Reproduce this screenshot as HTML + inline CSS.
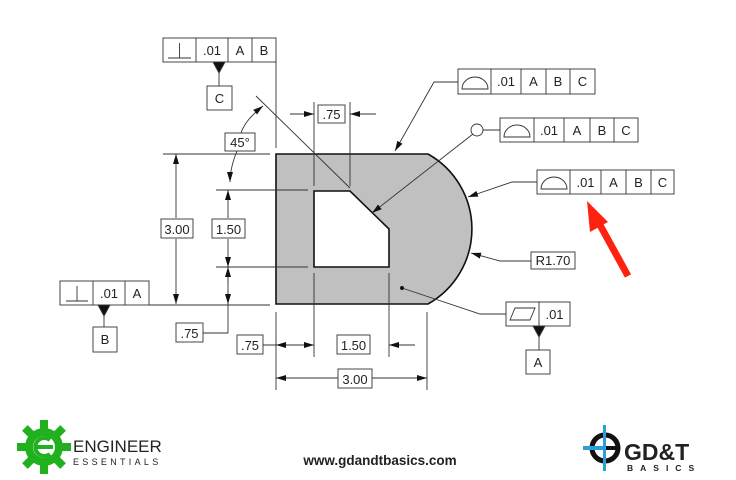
<!DOCTYPE html>
<html><head><meta charset="utf-8"><style>
html,body{margin:0;padding:0;background:#fff;width:736px;height:480px;overflow:hidden}
svg{display:block}
text{font-family:"Liberation Sans",Arial,sans-serif;fill:#222}
</style></head><body>
<svg width="736" height="480" viewBox="0 0 736 480" xmlns="http://www.w3.org/2000/svg">
<defs>
<marker id="a" markerWidth="10" markerHeight="6" refX="10" refY="3" orient="auto" markerUnits="userSpaceOnUse"><path d="M0,0 L10,3 L0,6 z" fill="#111"/></marker>
</defs>
<g stroke="#333" stroke-width="0.9" fill="none">
<path d="M276,154 L428,154 A86,86 0 0 1 428,304 L276,304 Z" fill="#c0c0c0" stroke="#111" stroke-width="1.6"/>
<path d="M314,191 L350,191 L389,229 L389,267 L314,267 Z" fill="#fff" stroke="#111" stroke-width="1.6"/>

<rect x="163" y="38" width="113" height="24" fill="#fff"/>
<line x1="196" y1="38" x2="196" y2="62"/><line x1="228" y1="38" x2="228" y2="62"/><line x1="252" y1="38" x2="252" y2="62"/>
<line x1="168" y1="58" x2="191" y2="58"/><line x1="179.5" y1="43" x2="179.5" y2="58"/>
<line x1="276" y1="62" x2="276" y2="148"/>
<path d="M213,62 L225,62 L219,73 Z" fill="#111"/><line x1="219" y1="73" x2="219" y2="86"/>
<rect x="207" y="86" width="25" height="24" fill="#fff"/>

<line x1="256" y1="96" x2="350" y2="188"/>
<path d="M241,133 Q245,120 263,106" marker-end="url(#a)" />
<path d="M237,151 Q230,168 230,182" marker-end="url(#a)"/>
<rect x="225" y="133" width="30" height="18" fill="#fff"/>

<line x1="314" y1="102" x2="314" y2="186"/><line x1="350" y1="102" x2="350" y2="186"/>
<line x1="290" y1="114" x2="314" y2="114" marker-end="url(#a)"/>
<line x1="376" y1="114" x2="350" y2="114" marker-end="url(#a)"/>
<rect x="318" y="105" width="27" height="18" fill="#fff"/>

<line x1="163" y1="154" x2="270" y2="154"/>
<line x1="176" y1="218" x2="176" y2="154" marker-end="url(#a)"/>
<line x1="176" y1="239" x2="176" y2="304" marker-end="url(#a)"/>
<rect x="161" y="219" width="32" height="19" fill="#fff"/>
<line x1="216" y1="190" x2="308" y2="190"/>
<line x1="216" y1="267" x2="308" y2="267"/>
<line x1="228" y1="218" x2="228" y2="190" marker-end="url(#a)"/>
<line x1="228" y1="239" x2="228" y2="267" marker-end="url(#a)"/>
<rect x="212" y="219" width="33" height="19" fill="#fff"/>
<line x1="228" y1="267" x2="228" y2="333"/>
<line x1="228" y1="290" x2="228" y2="304" marker-end="url(#a)"/>
<line x1="228" y1="283" x2="228" y2="267" marker-end="url(#a)"/>
<line x1="228" y1="333" x2="203" y2="333"/>
<rect x="176" y="323" width="27" height="19" fill="#fff"/>

<rect x="60" y="281" width="89" height="24" fill="#fff"/>
<line x1="93" y1="281" x2="93" y2="305"/><line x1="125" y1="281" x2="125" y2="305"/>
<line x1="66" y1="301" x2="88" y2="301"/><line x1="77" y1="286" x2="77" y2="301"/>
<line x1="149" y1="305" x2="270" y2="305"/>
<path d="M98,305 L110,305 L104,316 Z" fill="#111"/><line x1="104" y1="316" x2="104" y2="327"/>
<rect x="93" y="327" width="24" height="25" fill="#fff"/>

<line x1="276" y1="312" x2="276" y2="390"/>
<line x1="314" y1="273" x2="314" y2="357"/>
<line x1="389" y1="273" x2="389" y2="357"/>
<line x1="427" y1="312" x2="427" y2="390"/>
<line x1="263" y1="345" x2="300" y2="345"/>
<line x1="295" y1="345" x2="276" y2="345" marker-end="url(#a)"/>
<line x1="296" y1="345" x2="314" y2="345" marker-end="url(#a)"/>
<rect x="237" y="335" width="26" height="19" fill="#fff"/>
<rect x="337" y="335" width="33" height="19" fill="#fff"/>
<line x1="415" y1="345" x2="389" y2="345" marker-end="url(#a)"/>
<line x1="338" y1="378" x2="276" y2="378" marker-end="url(#a)"/>
<line x1="372" y1="378" x2="427" y2="378" marker-end="url(#a)"/>
<rect x="338" y="369" width="34" height="19" fill="#fff"/>

<rect x="458" y="69" width="137" height="25" fill="#fff"/>
<line x1="491" y1="69" x2="491" y2="94"/><line x1="521" y1="69" x2="521" y2="94"/><line x1="546" y1="69" x2="546" y2="94"/><line x1="570" y1="69" x2="570" y2="94"/>
<path d="M462,89 L488,89 A13,12 0 0 0 462,89 Z"/>
<polyline points="458,82 434,82 395,151" marker-end="url(#a)"/>
<rect x="500" y="118" width="138" height="24" fill="#fff"/>
<line x1="534" y1="118" x2="534" y2="142"/><line x1="564" y1="118" x2="564" y2="142"/><line x1="590" y1="118" x2="590" y2="142"/><line x1="614" y1="118" x2="614" y2="142"/>
<path d="M504,137 L530,137 A13,12 0 0 0 504,137 Z"/>
<circle cx="477" cy="130" r="6" fill="#fff"/>
<line x1="483" y1="130" x2="500" y2="130"/>
<line x1="473" y1="134" x2="372" y2="213" marker-end="url(#a)"/>
<rect x="537" y="170" width="137" height="24" fill="#fff"/>
<line x1="570" y1="170" x2="570" y2="194"/><line x1="601" y1="170" x2="601" y2="194"/><line x1="626" y1="170" x2="626" y2="194"/><line x1="651" y1="170" x2="651" y2="194"/>
<path d="M541,189 L567,189 A13,12 0 0 0 541,189 Z"/>
<polyline points="537,182 512,182 468,197" marker-end="url(#a)"/>
<rect x="531" y="252" width="44" height="17" fill="#fff"/>
<polyline points="531,261 500,261 471,253" marker-end="url(#a)"/>
<rect x="506" y="302" width="64" height="24" fill="#fff"/>
<line x1="539" y1="302" x2="539" y2="326"/>
<path d="M510,320 L530,320 L535,308 L515,308 Z"/>
<polyline points="506,314 480,314 402,288"/>
<path d="M533,326 L545,326 L539,337 Z" fill="#111"/><line x1="539" y1="337" x2="539" y2="350"/>
<rect x="526" y="350" width="24" height="24" fill="#fff"/>
</g>
<circle cx="402" cy="288" r="2" fill="#111"/>

<g font-size="13" text-anchor="middle">
<text x="212" y="55">.01</text><text x="240" y="55">A</text><text x="264" y="55">B</text>
<text x="219.5" y="103">C</text>
<text x="240" y="147">45°</text>
<text x="331.5" y="119">.75</text>
<text x="177" y="234">3.00</text>
<text x="228.5" y="234">1.50</text>
<text x="189.5" y="338">.75</text>
<text x="109" y="298">.01</text><text x="137" y="298">A</text>
<text x="105" y="344">B</text>
<text x="250" y="350">.75</text>
<text x="353.5" y="350">1.50</text>
<text x="355" y="384">3.00</text>
<text x="506" y="86">.01</text><text x="533.5" y="86">A</text><text x="558" y="86">B</text><text x="582.5" y="86">C</text>
<text x="549" y="135">.01</text><text x="577" y="135">A</text><text x="602" y="135">B</text><text x="626" y="135">C</text>
<text x="585.5" y="187">.01</text><text x="613.5" y="187">A</text><text x="638.5" y="187">B</text><text x="662.5" y="187">C</text>
<text x="553" y="265">R1.70</text>
<text x="554.5" y="319">.01</text>
<text x="538" y="367">A</text>
</g>

<line x1="628" y1="276" x2="600" y2="225" stroke="#f21" stroke-width="7"/>
<path d="M587,201 L608,222 L590,232 Z" fill="#f21"/>

<g fill="#21b11f">
<circle cx="44" cy="447" r="19"/>
<g transform="translate(44,447)">
<rect x="-4" y="-27" width="8" height="54"/>
<rect x="-27" y="-4" width="54" height="8"/>
<rect x="-4" y="-27" width="8" height="54" transform="rotate(45)"/>
<rect x="-4" y="-27" width="8" height="54" transform="rotate(-45)"/>
</g>
</g>
<circle cx="44" cy="447" r="11" fill="#fff"/>
<path d="M50,440 A9,9 0 1 0 50,454 M35,447 L53,447" stroke="#21b11f" stroke-width="4" fill="none"/>
<text x="73" y="452" font-size="17" fill="#111">ENGINEER</text>
<text x="73" y="465" font-size="9" letter-spacing="3.3" fill="#111">ESSENTIALS</text>
<text x="380" y="465" font-size="13.5" font-weight="bold" text-anchor="middle" fill="#111">www.gdandtbasics.com</text>
<circle cx="605" cy="448" r="13" fill="none" stroke="#111" stroke-width="5"/>
<rect x="603" y="425" width="3" height="46" fill="#2a9fd8"/>
<rect x="583" y="446" width="26" height="4" fill="#2a9fd8"/>
<rect x="606" y="446" width="10" height="4" fill="#111"/>
<text x="624" y="460" font-size="23" font-weight="bold" fill="#111">GD&amp;T</text>
<text x="627" y="471" font-size="8.5" font-weight="bold" letter-spacing="7" fill="#2a9fd8">BASICS</text>
</svg>
</body></html>
